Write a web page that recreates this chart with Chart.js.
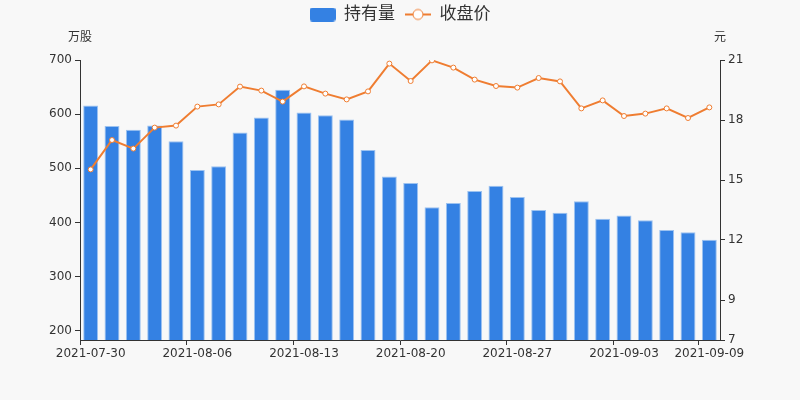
<!DOCTYPE html>
<html>
<head>
<meta charset="utf-8">
<script src="https://cdn.jsdelivr.net/npm/chart.js@4/dist/chart.umd.min.js"></script>
<style>
  html, body { margin: 0; padding: 0; background: #f8f8f8; }
  #wrap { width: 800px; height: 400px; }
</style>
</head>
<body>
<div id="wrap"><canvas id="myChart" width="800" height="400"></canvas></div>
<script>
var dates = ['2021-07-30', '2021-08-02', '2021-08-03', '2021-08-04', '2021-08-05', '2021-08-06',
  '2021-08-09', '2021-08-10', '2021-08-11', '2021-08-12', '2021-08-13',
  '2021-08-16', '2021-08-17', '2021-08-18', '2021-08-19', '2021-08-20',
  '2021-08-23', '2021-08-24', '2021-08-25', '2021-08-26', '2021-08-27',
  '2021-08-30', '2021-08-31', '2021-09-01', '2021-09-02', '2021-09-03',
  '2021-09-06', '2021-09-07', '2021-09-08', '2021-09-09'];
var holdings = [616, 578, 571, 579, 550, 497, 504, 566, 594, 645,
  603, 598, 590, 534, 485, 473, 428, 436, 458, 468,
  447, 423, 418, 439, 407, 413, 404, 386, 382, 368];
var closePrice = [15.53, 17.0, 16.57, 17.62, 17.72, 18.67, 18.78, 19.67, 19.47, 18.92,
  19.68, 19.32, 19.03, 19.43, 20.82, 19.95, 20.98, 20.62, 20.02, 19.70,
  19.62, 20.1, 19.93, 18.58, 18.98, 18.2, 18.32, 18.58, 18.1, 18.63];
var shownDates = [0, 5, 10, 15, 20, 25, 29];
var leftTicks = [200, 300, 400, 500, 600, 700];
var rightTicks = [7, 9, 12, 15, 18, 21];

var barColor = '#3481e3';
var lineColor = '#ef7d31';
var textColor = '#333';
var fontFam = '"DejaVu Sans", "Noto Sans CJK SC", sans-serif';

// legend icons
function makeIcon(kind) {
  var c = document.createElement('canvas');
  c.width = 26; c.height = 14;
  var g = c.getContext('2d');
  if (kind === 'bar') {
    g.fillStyle = barColor;
    g.beginPath();
    g.roundRect(0, 0, 26, 14, 3);
    g.fill();
  } else {
    g.strokeStyle = lineColor;
    g.lineWidth = 2;
    g.beginPath(); g.moveTo(0, 7); g.lineTo(26, 7); g.stroke();
    g.fillStyle = '#fff';
    g.lineWidth = 1;
    g.beginPath(); g.arc(13, 7, 5, 0, Math.PI * 2); g.fill(); g.stroke();
  }
  return c;
}
var icons = [makeIcon('bar'), makeIcon('line')];

// legend takes the whole 60px strip above the plot, drawn a little higher
var legendBox = {
  id: 'legendBox',
  afterInit: function(chart) {
    var lg = chart.legend;
    var origFit = lg.fit;
    lg.fit = function() { origFit.call(this); this.height = 60; };
  },
  afterLayout: function(chart) {
    chart.legend.top = -4;
  }
};

var unitLabels = {
  id: 'unitLabels',
  afterDraw: function(chart) {
    var ctx = chart.ctx;
    var a = chart.chartArea;
    ctx.save();
    ctx.fillStyle = textColor;
    ctx.font = '12px ' + fontFam;
    ctx.textAlign = 'center';
    ctx.textBaseline = 'middle';
    ctx.fillText('万股', a.left, 38);
    ctx.fillText('元', a.right, 38);
    ctx.restore();
  }
};

var ctx = document.getElementById('myChart');
var myChart = new Chart(ctx, {
  data: {
    labels: dates,
    datasets: [{
      type: 'line',
      label: '收盘价',
      data: closePrice,
      yAxisID: 'y1',
      borderColor: lineColor,
      borderWidth: 2,
      pointRadius: 2.5,
      pointBackgroundColor: '#fff',
      pointBorderColor: lineColor,
      pointBorderWidth: 1,
      tension: 0,
      order: 0
    }, {
      type: 'bar',
      label: '持有量',
      data: holdings,
      yAxisID: 'y',
      backgroundColor: barColor,
      borderColor: '#9cc2f0',
      borderWidth: 1,
      categoryPercentage: 1,
      barPercentage: 0.7,
      order: 1
    }]
  },
  options: {
    responsive: false,
    animation: false,
    layout: { padding: 0 },
    plugins: {
      tooltip: { enabled: false },
      legend: {
        position: 'top',
        reverse: true,
        labels: {
          usePointStyle: true,
          pointStyleWidth: 26,
          boxHeight: 14,
          padding: 10,
          color: textColor,
          font: { size: 17, family: fontFam },
          generateLabels: function(chart) {
            var items = Chart.defaults.plugins.legend.labels.generateLabels(chart);
            items.forEach(function(it) {
              it.pointStyle = it.datasetIndex === 1 ? icons[0] : icons[1];
            });
            return items;
          }
        }
      }
    },
    scales: {
      x: {
        offset: true,
        grid: { offset: true, drawOnChartArea: false, tickLength: 5,
          tickColor: function(c) {
            return (shownDates.indexOf(c.index) >= 0 || c.index === dates.length) ? textColor : 'rgba(0,0,0,0)';
          } },
        border: { color: textColor },
        ticks: {
          autoSkip: false, maxRotation: 0, color: textColor, padding: 2,
          font: { size: 12, family: fontFam },
          callback: function(v, i) { return shownDates.indexOf(i) >= 0 ? dates[i] : ''; }
        },
        afterFit: function(s) { s.height = 60; }
      },
      y: {
        position: 'left',
        min: 183,
        max: 700,
        afterBuildTicks: function(s) { s.ticks = leftTicks.map(function(v) { return { value: v }; }); },
        grid: { drawOnChartArea: false, tickLength: 5, tickColor: textColor },
        border: { color: textColor },
        ticks: { color: textColor, padding: 3, font: { size: 12, family: fontFam } },
        afterFit: function(s) { s.width = 80; }
      },
      y1: {
        position: 'right',
        min: 7,
        max: 21,
        afterBuildTicks: function(s) { s.ticks = rightTicks.map(function(v) { return { value: v }; }); },
        grid: { drawOnChartArea: false, tickLength: 5, tickColor: textColor },
        border: { color: textColor },
        ticks: { color: textColor, padding: 3, font: { size: 12, family: fontFam } },
        afterFit: function(s) { s.width = 80; }
      }
    }
  },
  plugins: [legendBox, unitLabels]
});
</script>
</body>
</html>
